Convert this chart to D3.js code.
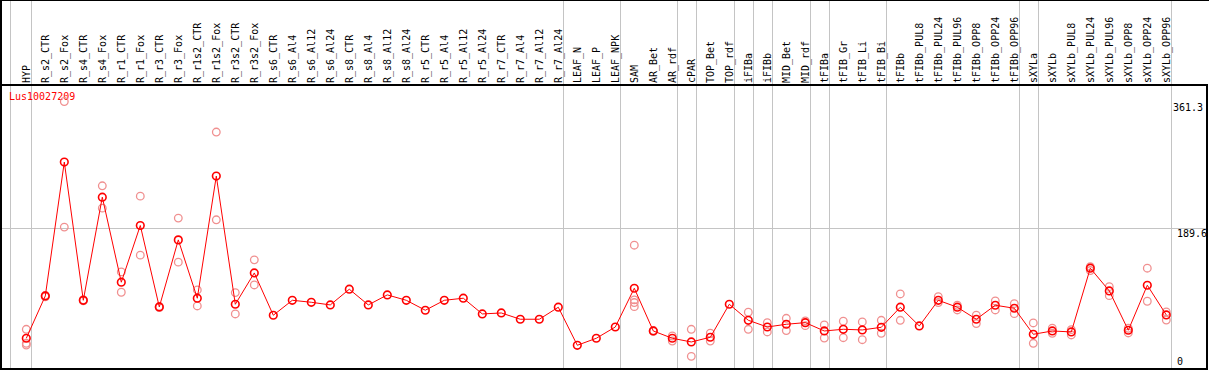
<!DOCTYPE html>
<meta charset="UTF-8">
<style>
body { margin: 0; background: #fff; }
text { font: 10px "DejaVu Sans Mono", monospace; }
.grid { stroke: #c4c4c4; stroke-width: 1px; shape-rendering: crispEdges; }
.frame { stroke: #000; stroke-width: 2px; shape-rendering: crispEdges; }
.line { fill: none; stroke: #ff0000; stroke-width: 1px; }
.rep { fill: none; stroke: #f09090; stroke-width: 1.3px; }
.mean { fill: none; stroke: #ff0000; stroke-width: 1.6px; }
</style>
<body>
<div class='chart'></div>
<script src="https://d3js.org/d3.v7.min.js"></script>
<script>
var gene = "Lus10027209";

var samples = ["HYP", "R_s2_CTR", "R_s2_Fox", "R_s4_CTR", "R_s4_Fox", "R_r1_CTR", "R_r1_Fox",
  "R_r3_CTR", "R_r3_Fox", "R_r1s2_CTR", "R_r1s2_Fox", "R_r3s2_CTR", "R_r3s2_Fox",
  "R_s6_CTR", "R_s6_Al4", "R_s6_Al12", "R_s6_Al24", "R_s8_CTR", "R_s8_Al4", "R_s8_Al12", "R_s8_Al24",
  "R_r5_CTR", "R_r5_Al4", "R_r5_Al12", "R_r5_Al24", "R_r7_CTR", "R_r7_Al4", "R_r7_Al12", "R_r7_Al24",
  "LEAF_N", "LEAF_P", "LEAF_NPK", "SAM", "AR_Bet", "AR_rdf", "cPAR", "TOP_Bet", "TOP_rdf",
  "iFIBa", "iFIBb", "MID_Bet", "MID_rdf", "tFIBa", "tFIB_Gr", "tFIB_Li", "tFIB_Bi", "tFIBb",
  "tFIBb_PUL8", "tFIBb_PUL24", "tFIBb_PUL96", "tFIBb_OPP8", "tFIBb_OPP24", "tFIBb_OPP96",
  "sXYLa", "sXYLb", "sXYLb_PUL8", "sXYLb_PUL24", "sXYLb_PUL96", "sXYLb_OPP8", "sXYLb_OPP24", "sXYLb_OPP96"];

// mean expression per sample
var means = [40.3, 97.7, 279.2, 91.8, 231.6, 116.3, 193.2, 82.8, 173.7, 94.6, 260.2, 86.4, 128.9,
  71.5, 91.8, 89.1, 85.5, 106.8, 85.5, 99.1, 91.8, 78.3, 91.8, 94.6, 73.3, 74.6, 66.1, 66.1, 82.4,
  30.8, 40.3, 55.6, 108.1, 50.2, 40.3, 35.3, 41.7, 86.4, 64.7, 55.6, 59.3, 61.5, 50.2, 52.5, 51.6, 55.2,
  82.4, 57.0, 91.8, 82.4, 66.1, 85.1, 81.0, 45.7, 50.2, 48.9, 135.3, 104.5, 51.2, 112.2, 71.9];

// individual replicates
var replicates = [[52.5, 33.5, 31.2], [98.5, 96.5], [361.3, 191], [92.5, 91], [247, 216.7],
  [130.3, 102.7], [233, 153], [83.5, 82], [203.2, 143.5], [105.9, 84.1], [319.9, 200.9],
  [102.2, 73.3], [146.6, 112.6], [], [], [], [], [], [], [], [], [], [], [], [], [], [], [], [],
  [], [], [], [166.5, 92.3, 88.7, 83.2], [50.8, 49.6], [43.4, 36.6], [52.5, 15.8], [47.1, 36.6], [],
  [75.6, 52.5], [61.5, 48.9], [67.4, 50.7], [63.8, 57.4], [58.4, 40.7], [63.4, 41.1], [62.4, 38.4],
  [64.7, 47.1], [100.4, 64.7], [], [96.8, 88.7], [85.1, 78.7], [71.5, 60.2], [90.9, 78.7], [87.3, 73.7],
  [61.1, 33.5], [53.9, 47.1], [52, 44.8], [137.5, 132.1], [110.3, 98.1], [53.9, 47.5], [135.3, 90.5], [76, 65.1]];

// group separators are drawn after these samples
var groupEnds = ["HYP", "R_r7_Al24", "LEAF_NPK", "AR_rdf", "cPAR", "TOP_rdf", "iFIBa", "iFIBb",
  "MID_rdf", "tFIBa", "tFIB_Bi", "tFIBb_OPP96", "sXYLa", "sXYLb_OPP96"];

var yTicks = [361.3, 189.6, 0];

var width = 1209, height = 370,
    headerY = 85, plotBottom = 368, plotRight = 1207;

var svg = d3.select(".chart").append("svg")
  .attr("width", width)
  .attr("height", height);

var x = d3.scalePoint().domain(samples).range([26.3, 1166.3]);
var y = d3.scaleLinear().domain([0, 361.3]).range([plotBottom, 101.5]);

// vertical grid lines
var gx = [x("HYP") - 16].concat(groupEnds.map(function (s) { return x(s) + 4.5; }));
svg.selectAll(".vgrid").data(gx).enter().append("line")
  .attr("class", "grid")
  .attr("x1", function (d) { return Math.round(d) + 0.5; })
  .attr("x2", function (d) { return Math.round(d) + 0.5; })
  .attr("y1", 0).attr("y2", plotBottom);

// horizontal grid line at middle tick
svg.append("line").attr("class", "grid")
  .attr("x1", 1).attr("x2", plotRight)
  .attr("y1", Math.round(y(189.6)) + 0.5).attr("y2", Math.round(y(189.6)) + 0.5);

// frame
svg.append("line").attr("class", "frame").attr("x1", 0).attr("x2", width).attr("y1", 0).attr("y2", 0);
svg.append("line").attr("class", "frame").attr("x1", 1).attr("x2", 1).attr("y1", 0).attr("y2", plotBottom + 1);
svg.append("line").attr("class", "frame").attr("x1", 0).attr("x2", plotRight + 1).attr("y1", headerY).attr("y2", headerY);
svg.append("line").attr("class", "frame").attr("x1", 0).attr("x2", plotRight + 1).attr("y1", plotBottom + 1).attr("y2", plotBottom + 1);
svg.append("line").attr("class", "frame").attr("x1", plotRight).attr("x2", plotRight).attr("y1", headerY).attr("y2", plotBottom + 1);

// sample labels
svg.selectAll(".lab").data(samples).enter().append("text")
  .attr("class", "lab")
  .attr("transform", function (d) { return "translate(" + (x(d) + 4) + "," + (headerY - 2) + ") rotate(-90)"; })
  .attr("fill", "#000")
  .text(function (d) { return d; });

// gene name
svg.append("text").attr("x", 9).attr("y", 100).attr("fill", "#ff0000").text(gene);

// y tick labels
svg.selectAll(".ytick").data(yTicks).enter().append("text")
  .attr("class", "ytick")
  .attr("x", function (d, i) { return i === 0 ? 1173 : 1177; })
  .attr("y", function (d) { return d === 0 ? plotBottom - 3 : y(d) + 9; })
  .attr("fill", "#000")
  .text(function (d) { return d3.format(".1f")(d).replace(/\.0$/, ""); });

// replicate circles
var reps = [];
replicates.forEach(function (r, i) {
  r.forEach(function (v) { reps.push({ s: samples[i], v: v }); });
});
svg.selectAll(".rep").data(reps).enter().append("circle")
  .attr("class", "rep")
  .attr("cx", function (d) { return x(d.s); })
  .attr("cy", function (d) { return y(d.v); })
  .attr("r", 3.8);

// mean line
var line = d3.line()
  .x(function (d, i) { return x(samples[i]); })
  .y(function (d) { return y(d); });
svg.append("path").attr("class", "line").attr("d", line(means));

svg.selectAll(".mean").data(means).enter().append("circle")
  .attr("class", "mean")
  .attr("cx", function (d, i) { return x(samples[i]); })
  .attr("cy", function (d) { return y(d); })
  .attr("r", 3.8);
</script>
</body>
